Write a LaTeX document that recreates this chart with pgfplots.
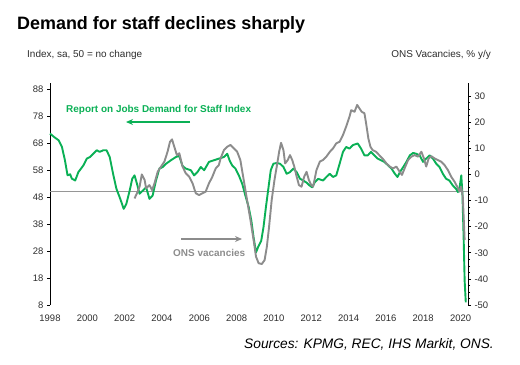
\documentclass[border=0pt]{standalone}
\usepackage{pgfplots}
\pgfplotsset{compat=1.18}
\usepackage{fontspec}
\setmainfont{Liberation Sans}
\usetikzlibrary{arrows.meta}
\definecolor{rgreen}{RGB}{10,176,85}
\definecolor{ongrey}{RGB}{140,140,140}
\definecolor{hgrey}{RGB}{150,150,150}
\definecolor{labc}{RGB}{45,45,45}

\pgfplotstableread{
x y
1998.0 71.5
1998.2 70.3
1998.46 69
1998.64 66.5
1998.8 61.6
1998.94 56
1999.08 56.4
1999.17 54.8
1999.35 54.1
1999.52 57.2
1999.79 59.7
1999.97 62.2
2000.14 62.8
2000.32 64
2000.5 65.3
2000.67 64.7
2000.85 65.3
2001.03 65.3
2001.2 62.8
2001.38 56.6
2001.56 51
2001.7 48.5
2001.83 46
2001.95 43.6
2002.09 45.4
2002.27 50.4
2002.41 54.8
2002.53 56
2002.66 52.9
2002.8 49.2
2002.98 50.4
2003.15 51.6
2003.33 47.3
2003.5 48.5
2003.68 54.1
2003.86 58.5
2004.04 59.1
2004.22 60.3
2004.48 61.6
2004.75 62.8
2004.92 63.2
2005.1 59.5
2005.28 58.5
2005.55 57.9
2005.72 56
2005.9 57.2
2006.08 59.1
2006.26 57.9
2006.52 61
2006.79 61.6
2007.05 62.2
2007.32 62.8
2007.5 64
2007.62 61.6
2007.76 59.7
2007.94 58.5
2008.12 56
2008.3 52.9
2008.47 48.5
2008.65 44.2
2008.79 39.2
2008.91 33
2009.04 27.5
2009.18 29.9
2009.32 31.8
2009.44 36.8
2009.57 44.2
2009.71 51.6
2009.83 57.9
2009.97 60.3
2010.15 60.6
2010.33 60.3
2010.51 59.1
2010.68 56.6
2010.86 57.2
2011.04 58.5
2011.22 57.2
2011.39 54.8
2011.57 54.1
2011.75 53.3
2011.9 52.3
2012.05 51.6
2012.19 53.5
2012.37 54.7
2012.63 54.1
2012.81 55.4
2012.99 56.6
2013.17 55.4
2013.34 56
2013.52 60.3
2013.7 64.7
2013.87 66.5
2014.05 65.9
2014.23 67.2
2014.49 67.8
2014.67 65.9
2014.85 63.4
2015.03 63.4
2015.2 64.7
2015.38 63.4
2015.56 62.2
2015.73 61.6
2015.91 61
2016.12 59.7
2016.3 58.5
2016.48 56.6
2016.62 55.4
2016.75 57.2
2016.93 59.1
2017.1 61
2017.28 63.4
2017.46 64.3
2017.63 64
2017.81 63.4
2017.99 61
2018.16 62.2
2018.34 63.4
2018.52 62.2
2018.7 60.3
2018.87 59.1
2019.05 56.6
2019.23 54.7
2019.4 54.1
2019.58 52.3
2019.76 51
2019.86 49.8
2019.95 51.6
2020.04 56
2020.1 49.2
2020.17 31.8
2020.22 16.9
2020.28 9
}\rojdata

\pgfplotstableread{
x y
2002.53 -9.2
2002.66 -7.2
2002.8 -4.7
2002.92 0.0
2003.07 -2.1
2003.15 -5.3
2003.33 -4.1
2003.47 -6
2003.6 -3.4
2003.77 1.0
2003.95 3.0
2004.13 4.9
2004.3 8.7
2004.43 12.5
2004.54 13.4
2004.66 10.6
2004.8 7.4
2004.93 8.1
2005.1 3.0
2005.28 0.4
2005.46 -0.9
2005.64 -3.4
2005.81 -7.2
2005.99 -7.9
2006.17 -7.2
2006.34 -6.6
2006.52 -3.4
2006.7 -0.9
2006.88 2.3
2007.05 3.6
2007.14 6.1
2007.32 9.3
2007.5 10.6
2007.67 11.3
2007.85 10
2008.03 8.7
2008.2 5.5
2008.38 -2.1
2008.56 -9.8
2008.74 -17.4
2008.91 -25.1
2009.04 -31.5
2009.18 -34
2009.35 -34.3
2009.5 -32.8
2009.62 -27.7
2009.74 -20
2009.88 -9.8
2010.03 -2.1
2010.15 3.0
2010.28 8.7
2010.38 12.1
2010.51 9.3
2010.6 4.2
2010.74 5.5
2010.86 7.4
2010.98 5.5
2011.09 3
2011.22 -0.9
2011.34 -4.1
2011.48 -4.7
2011.62 -0.9
2011.75 1.0
2011.87 -2.1
2012.0 -4.1
2012.1 -4.7
2012.28 1.7
2012.46 4.9
2012.63 5.5
2012.81 6.8
2013.0 8.7
2013.17 10
2013.34 11.9
2013.52 12.5
2013.7 15.1
2013.87 18.3
2014.05 22.1
2014.14 24.6
2014.32 24
2014.46 26.6
2014.58 25.3
2014.7 24
2014.85 23.4
2014.94 19.5
2015.06 13.8
2015.17 10.6
2015.29 9.3
2015.47 8.7
2015.64 7.4
2015.82 6.1
2016.03 4.2
2016.21 3
2016.38 2.3
2016.56 3
2016.74 1
2016.86 -0.2
2017.0 2.3
2017.19 5.5
2017.37 6.8
2017.54 7.4
2017.72 6.8
2017.9 8.7
2018.04 6.1
2018.16 3
2018.29 6.1
2018.43 7.0
2018.61 6.1
2018.78 5.5
2018.96 4.9
2019.14 3.6
2019.32 1.7
2019.5 -0.9
2019.68 -2.8
2019.82 -4.7
2019.95 -6.6
2020.03 -4.7
2020.12 -8.5
2020.22 -25.1
}\onsdata

\begin{document}
\begin{tikzpicture}[x=1bp,y=1bp]
\useasboundingbox (0,0) rectangle (520,364);
\pgfplotsset{
  common/.style={
    at={(50bp,59bp)}, anchor=south west,
    scale only axis, width=418bp, height=222bp,
    xmin=1998, xmax=2020.4,
    axis line style={-, black, line width=0.8bp},
    tick align=outside,
    major tick length=3bp,
    minor tick length=2bp,
    tick style={black, line width=0.6bp},
    ticklabel style={font=\fontsize{9.5}{11}\selectfont, text=labc},
    /pgf/number format/assume math mode=true,
    /pgf/number format/1000 sep={},
    clip=false,
  }
}
\begin{axis}[common,
  ymin=8, ymax=90.2,
  axis y line*=left, axis x line*=bottom,
  x axis line style={draw=none},
  xtick={1998,2000,...,2020},
  xtick style={draw=none},
  ytick={8,18,...,88},
  xticklabel style={yshift=-3bp},
]
\addplot[hgrey, line width=1.1bp, forget plot] coordinates {(1998,50) (2020.4,50)};
\addplot[rgreen, line width=1.9bp, line join=round] table[x=x,y=y] {\rojdata};
\end{axis}
\begin{axis}[common,
  ymin=-50, ymax=35,
  axis y line*=right, axis x line=none,
  ytick={-50,-40,...,30},
  minor y tick num=3,
]
\addplot[ongrey, line width=1.9bp, line join=round] table[x=x,y=y] {\onsdata};
\end{axis}
\node[anchor=base west, inner sep=0, font=\fontsize{18}{21}\selectfont\bfseries] at (17,334.5) {Demand for staff declines sharply};
\node[anchor=base west, inner sep=0, font=\fontsize{10}{12}\selectfont, text=labc] at (27,306.5) {Index, sa, 50 = no change};
\node[anchor=base east, inner sep=0, font=\fontsize{10}{12}\selectfont, text=labc] at (491,306.5) {ONS Vacancies, \% y/y};
\node[anchor=base east, inner sep=0, font=\fontsize{13.8}{16}\selectfont\itshape] at (494,16) {Sources: KPMG, REC, IHS Markit, ONS.};
\node[anchor=base west, inner sep=0, font=\fontsize{10}{12}\selectfont\bfseries, text=rgreen] at (66,251.5) {Report on Jobs Demand for Staff Index};
\draw[rgreen, line width=1.5bp, -{Stealth[length=7bp,width=6bp]}] (190,242) -- (126,242);
\node[anchor=base west, inner sep=0, font=\fontsize{10}{12}\selectfont\bfseries, text=ongrey] at (173,108) {ONS vacancies};
\draw[ongrey, line width=1.5bp, -{Stealth[length=7bp,width=6bp]}] (181,125) -- (242,125);
\end{tikzpicture}
\end{document}
